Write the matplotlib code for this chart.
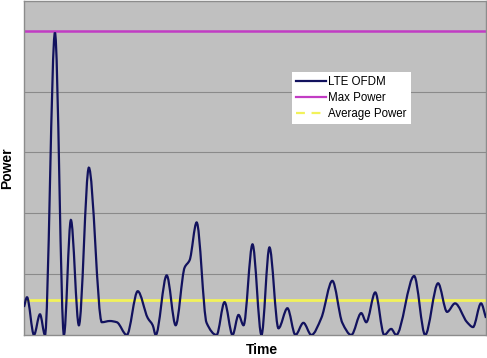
import numpy as np
import matplotlib
matplotlib.use("Agg")
import matplotlib.pyplot as plt
from matplotlib.path import Path
from matplotlib.patches import PathPatch
from matplotlib.lines import Line2D

plt.rcParams["font.family"] = ["Liberation Sans", "DejaVu Sans"]

# ==========================
# DATA
# ==========================

time_pts = [0.0, 0.65, 2.16, 3.46, 4.54, 6.70, 8.64, 10.15, 11.88, 14.04,
            16.85, 18.57, 20.09, 22.25, 24.62, 26.78, 27.86, 28.51, 30.89, 32.83,
            34.77, 35.85, 37.37, 39.52, 41.68, 43.41, 45.14, 46.44, 47.52, 49.46,
            51.40, 53.13, 55.08, 57.02, 58.75, 60.48, 62.20, 64.36, 66.74, 68.90,
            70.84, 73.00, 74.08, 76.03, 77.97, 79.48, 80.56, 84.45, 86.83, 89.63,
            91.58, 93.30, 95.90, 97.19, 98.92, 100.0]

power_pts = [0.46, 0.62, 0.0, 0.34, 0.0, 4.97, 0.0, 1.89, 0.16, 2.75,
             0.21, 0.23, 0.21, 0.0, 0.72, 0.28, 0.16, 0.0, 0.98, 0.16,
             1.11, 1.23, 1.85, 0.20, 0.0, 0.54, 0.0, 0.33, 0.16, 1.49,
             0.0, 1.44, 0.11, 0.44, 0.0, 0.20, 0.0, 0.28, 0.89, 0.20,
             0.0, 0.36, 0.21, 0.70, 0.0, 0.10, 0.0, 0.97, 0.0, 0.85,
             0.38, 0.52, 0.21, 0.13, 0.52, 0.28]

MAX_POWER = 5.0
AVG_POWER = 0.57

legend_labels = ["LTE OFDM", "Max Power", "Average Power"]

# ==========================
# STYLE
# ==========================

LTE_COLOR = "#12125e"
MAX_COLOR = "#c23cc4"
AVG_COLOR = "#f2f25a"
BG_COLOR = "#c0c0c0"
GRID_COLOR = "#8a8a8a"


def smooth_path(x, y):
    """Excel-style smoothed line: cubic Bezier segments with monotone tangents."""
    x = np.asarray(x, float)
    y = np.asarray(y, float)
    h = np.diff(x)
    s = np.diff(y) / h
    d = np.zeros_like(y)
    for i in range(1, len(y) - 1):
        if s[i - 1] * s[i] > 0:
            w1 = 2 * h[i] + h[i - 1]
            w2 = h[i] + 2 * h[i - 1]
            d[i] = (w1 + w2) / (w1 / s[i - 1] + w2 / s[i])
    d[0] = s[0]
    d[-1] = s[-1]

    verts = [(x[0], y[0])]
    codes = [Path.MOVETO]
    for i in range(len(x) - 1):
        verts += [(x[i] + h[i] / 3, y[i] + d[i] * h[i] / 3),
                  (x[i + 1] - h[i] / 3, y[i + 1] - d[i + 1] * h[i] / 3),
                  (x[i + 1], y[i + 1])]
        codes += [Path.CURVE4] * 3
    return Path(verts, codes)


fig = plt.figure(figsize=(4.87, 3.58), dpi=100)
ax = fig.add_axes([24 / 487, 23 / 358, 462 / 487, 334 / 358])
ax.set_facecolor(BG_COLOR)

ax.set_xlim(0, 100)
ax.set_ylim(0, 5.49)

ax.set_yticks([1, 2, 3, 4, 5])
ax.set_xticks([])
ax.tick_params(left=False, labelleft=False)
ax.grid(axis="y", color=GRID_COLOR, lw=0.8)
ax.set_axisbelow(True)

for sp in ax.spines.values():
    sp.set_color("#8c8c8c")
    sp.set_linewidth(1.0)

ax.axhline(AVG_POWER, color=AVG_COLOR, lw=2.0, zorder=2)
ax.axhline(MAX_POWER, color=MAX_COLOR, lw=1.8, zorder=2)

patch = PathPatch(smooth_path(time_pts, power_pts), fill=False,
                  edgecolor=LTE_COLOR, lw=1.6, zorder=3)
ax.add_patch(patch)

handles = [
    Line2D([], [], color=LTE_COLOR, lw=1.6),
    Line2D([], [], color=MAX_COLOR, lw=1.6),
    Line2D([], [], color=AVG_COLOR, lw=1.6, ls=(0, (4, 3))),
]
leg = ax.legend(handles, legend_labels, loc="upper left",
                bbox_to_anchor=(0.58, 0.787), fontsize=8.3,
                frameon=True, fancybox=False, framealpha=1,
                edgecolor="white", facecolor="white",
                handlelength=2.6, handletextpad=0.2, labelspacing=0.35,
                borderpad=0.35, borderaxespad=0)
leg.get_frame().set_linewidth(0)

fig.text(262 / 487, 1 - 350 / 358, "Time", ha="center", va="center",
         fontsize=10, fontweight="bold")
fig.text(7 / 487, 1 - 168 / 358, "Power", ha="center", va="center",
         rotation=90, fontsize=10, fontweight="bold")

fig.savefig("out.png", dpi=100, facecolor="white")
